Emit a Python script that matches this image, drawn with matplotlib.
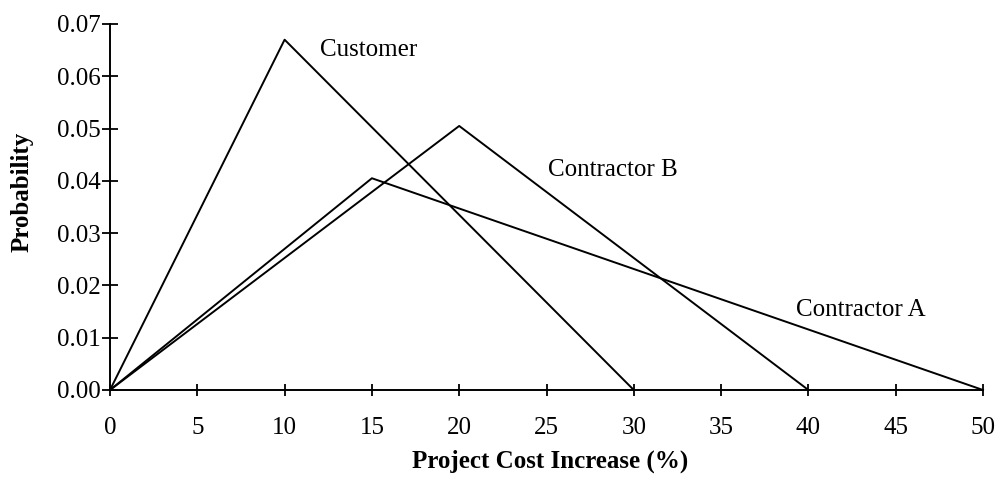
import matplotlib
matplotlib.use("Agg")
import matplotlib.pyplot as plt

plt.rcParams['font.family'] = ['Liberation Serif', 'DejaVu Serif']

# Triangular distributions: (start, peak, end) and peak probability
customer_x = [0, 10, 30]
customer_y = [0.0, 0.067, 0.0]
contractor_b_x = [0, 20, 40]
contractor_b_y = [0.0, 0.0505, 0.0]
contractor_a_x = [0, 15, 50]
contractor_a_y = [0.0, 0.0405, 0.0]

x_ticks = [0, 5, 10, 15, 20, 25, 30, 35, 40, 45, 50]
y_ticks = [0.00, 0.01, 0.02, 0.03, 0.04, 0.05, 0.06, 0.07]

W, H = 1001, 479
fig = plt.figure(figsize=(W / 100, H / 100), dpi=100)
ax = fig.add_axes([110 / W, 1 - 390 / H, (983 - 110) / W, (390 - 24) / H])

for xs, ys in [(customer_x, customer_y), (contractor_b_x, contractor_b_y), (contractor_a_x, contractor_a_y)]:
    ax.plot(xs, ys, color='black', linewidth=1.4, clip_on=False)

FS = 18
ax.text(12.0, 0.0650, 'Customer', fontsize=FS, va='center', ha='left')
ax.text(25.1, 0.0420, 'Contractor B', fontsize=FS, va='center', ha='left')
ax.text(39.3, 0.0153, 'Contractor A', fontsize=FS, va='center', ha='left')

ax.set_xlim(0, 50)
ax.set_ylim(0, 0.07)
ax.set_xticks(x_ticks)
ax.set_yticks(y_ticks)
ax.set_xticklabels([str(t) for t in x_ticks])
ax.set_yticklabels([f'{t:.2f}' for t in y_ticks])
ax.tick_params(direction='inout', width=1.3, labelsize=FS, color='black')
ax.tick_params(axis='x', length=8.6, pad=15)
ax.tick_params(axis='y', length=11.5, pad=1)

for s in ['top', 'right']:
    ax.spines[s].set_visible(False)
for s in ['left', 'bottom']:
    ax.spines[s].set_linewidth(1.4)

fig.text(550 / W, 1 - 461 / H, 'Project Cost Increase (%)', fontsize=FS,
         fontweight='bold', ha='center', va='center')
fig.text(22 / W, 1 - 192 / H, 'Probability', fontsize=FS, fontweight='bold',
         ha='center', va='center', rotation=90)

fig.savefig('out.png', dpi=100)
